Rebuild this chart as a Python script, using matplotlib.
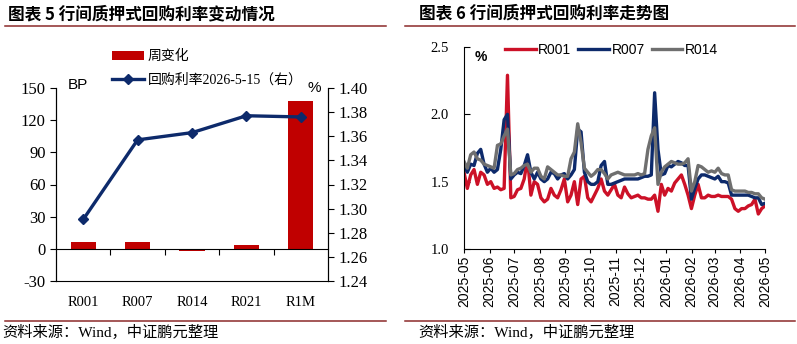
import numpy as np
import pandas as pd
import matplotlib
matplotlib.use('Agg')
import matplotlib.pyplot as plt
import matplotlib.dates as mdates
from matplotlib.lines import Line2D

CJK = 'Noto Sans CJK SC'
SERIF = ['Liberation Serif', CJK]
SANS = ['Liberation Sans', CJK]
plt.rcParams['font.family'] = SERIF
plt.rcParams['axes.unicode_minus'] = False

# ---- left chart data ----
terms = ['R001', 'R007', 'R014', 'R021', 'R1M']
week_change = [6.1, 6.0, -1.6, 3.6, 137.6]
rate_0515 = [1.291, 1.357, 1.363, 1.377, 1.376]

# ---- right chart data ----
r001 = [1.57, 1.45, 1.55, 1.59, 1.48, 1.57, 1.55, 1.48, 1.50, 1.45, 1.46, 1.44, 1.45, 2.29, 1.38,
        1.39, 1.44, 1.45, 1.52, 1.67, 1.40, 1.50, 1.48, 1.38, 1.35, 1.37, 1.45, 1.40, 1.38, 1.44,
        1.52, 1.35, 1.40, 1.50, 1.33, 1.52, 1.54, 1.38, 1.35, 1.40, 1.45, 1.52, 1.43, 1.40, 1.44,
        1.48, 1.40, 1.38, 1.46, 1.41, 1.38, 1.39, 1.40, 1.38, 1.38, 1.37, 1.37, 1.40, 1.28, 1.48,
        1.40, 1.45, 1.43, 1.49, 1.52, 1.55, 1.48, 1.40, 1.30, 1.40, 1.48, 1.38, 1.38, 1.40, 1.39,
        1.39, 1.40, 1.39, 1.39, 1.39, 1.37, 1.30, 1.28, 1.30, 1.30, 1.32, 1.33, 1.37, 1.26, 1.30,
        1.32]
r007 = [1.62, 1.57, 1.63, 1.62, 1.71, 1.74, 1.63, 1.57, 1.60, 1.57, 1.59, 1.74, 1.96, 2.00, 1.52,
        1.55, 1.57, 1.56, 1.62, 1.70, 1.57, 1.52, 1.57, 1.52, 1.50, 1.52, 1.57, 1.56, 1.52, 1.55,
        1.56, 1.52, 1.55, 1.59, 1.89, 1.87, 1.57, 1.50, 1.48, 1.48, 1.50, 1.62, 1.65, 1.48, 1.48,
        1.49, 1.50, 1.51, 1.52, 1.52, 1.52, 1.52, 1.52, 1.53, 1.54, 1.54, 1.55, 2.16, 1.74, 1.55,
        1.56, 1.62, 1.61, 1.63, 1.65, 1.64, 1.62, 1.62, 1.37, 1.45, 1.52, 1.55, 1.55, 1.54, 1.53,
        1.52, 1.54, 1.50, 1.50, 1.49, 1.40, 1.40, 1.40, 1.40, 1.40, 1.40, 1.39, 1.38, 1.38, 1.33,
        1.34]
r014 = [1.65, 1.60, 1.70, 1.72, 1.67, 1.66, 1.63, 1.62, 1.61, 1.60, 1.77, 1.78, 1.84, 1.89, 1.55,
        1.56, 1.59, 1.60, 1.62, 1.63, 1.57, 1.60, 1.60, 1.54, 1.52, 1.61, 1.59, 1.57, 1.55, 1.55,
        1.54, 1.54, 1.67, 1.72, 1.93, 1.79, 1.60, 1.57, 1.54, 1.56, 1.59, 1.59, 1.56, 1.52, 1.55,
        1.56, 1.57, 1.56, 1.55, 1.55, 1.55, 1.55, 1.56, 1.55, 1.56, 1.74, 1.84, 1.90, 1.48, 1.57,
        1.61, 1.63, 1.65, 1.64, 1.63, 1.63, 1.64, 1.67, 1.43, 1.50, 1.62, 1.61, 1.59, 1.57, 1.58,
        1.57, 1.60, 1.56, 1.55, 1.55, 1.44, 1.43, 1.43, 1.43, 1.43, 1.42, 1.42, 1.41, 1.41, 1.38,
        1.37]
dates = pd.date_range('2025-05-15', '2026-05-15', periods=len(r001))
month_ticks = pd.date_range('2025-05-01', '2026-05-01', freq='MS') + pd.Timedelta(days=14)

BAR_RED = '#C00000'
NAVY = '#0D2A6B'
LINE_RED = '#CC1127'
GRAY = '#6F6F6F'
RULE = '#8B2A2A'

fig = plt.figure(figsize=(7.97, 3.44), dpi=100)
W, H = 797, 344


def fx(px):
    return px / W


def fy(py):
    return 1 - py / H


# titles, rules, source
for x0, x1, tx, title in [(5, 386, 8, '图表 5 行间质押式回购利率变动情况'),
                          (405, 795, 419, '图表 6 行间质押式回购利率走势图')]:
    fig.text(fx(tx), fy(14), title, family=[CJK], fontsize=12, fontweight='bold',
             va='center', ha='left')
    fig.add_artist(Line2D([fx(x0), fx(x1)], [fy(26), fy(26)], color=RULE, lw=1.1))
    fig.add_artist(Line2D([fx(x0), fx(x1)], [fy(321), fy(321)], color=RULE, lw=1.1))
    fig.text(fx(x0 - 3 if x0 == 5 else x0 + 13), fy(332), '资料来源：Wind，中证鹏元整理',
             family=SERIF, fontsize=11, va='center', ha='left')

# ---- left chart ----
ax = fig.add_axes([fx(56), fy(281), fx(272), 193 / H])
x = np.arange(len(terms))
bars = ax.bar(x, week_change, width=0.46, color=BAR_RED, zorder=2, label='周变化')
ax.set_xlim(-0.5, len(terms) - 0.5)
ax.set_ylim(-30, 150)
ax.set_yticks(np.arange(-30, 151, 30))
ax.spines['top'].set_visible(False)
ax.spines['bottom'].set_position(('data', 0))
ax.set_xticks(x[:-1] + 0.5)
ax.set_xticklabels([])
ax.set_xticks(x, minor=True)
ax.set_xticklabels(terms, minor=True)
ax.tick_params(axis='x', which='major', direction='out', length=4)
ax.tick_params(axis='x', which='minor', length=0, pad=34, labelsize=10.5)
ax.tick_params(axis='y', direction='out', length=4, labelsize=12)

ax2 = ax.twinx()
ln, = ax2.plot(x, rate_0515, color=NAVY, lw=2.4, marker='D', markersize=5.5, zorder=3,
               label='回购利率2026-5-15（右）')
ax2.set_ylim(1.24, 1.40)
ax2.set_yticks(np.arange(1.24, 1.401, 0.02))
ax2.yaxis.set_major_formatter(plt.FormatStrFormatter('%.2f'))
ax2.spines['top'].set_visible(False)
ax2.tick_params(axis='y', direction='out', length=4, labelsize=12)

ax.text(fx(68), fy(85), 'BP', transform=fig.transFigure, family=SANS, fontsize=11,
        va='center', ha='left')
ax.text(fx(314), fy(88), '%', transform=fig.transFigure, family=SANS, fontsize=11,
        va='center', ha='center')

fig.legend([bars, ln], ['周变化', '回购利率2026-5-15（右）'], loc='upper left',
           bbox_to_anchor=(fx(112), fy(50)), frameon=False, prop={'family': SERIF, 'size': 10},
           borderpad=0, borderaxespad=0, handlelength=2.3, handletextpad=0.25, labelspacing=0.7)

# ---- right chart ----
bx = fig.add_axes([fx(464), fy(249), fx(301), 202 / H])
bx.plot(dates, r001, color=LINE_RED, lw=2.4, label='R001')
bx.plot(dates, r007, color=NAVY, lw=2.4, label='R007')
bx.plot(dates, r014, color=GRAY, lw=2.4, label='R014')
bx.set_xlim(dates[0], dates[-1])
bx.set_ylim(1.0, 2.5)
bx.set_yticks([1.0, 1.5, 2.0, 2.5])
bx.yaxis.set_major_formatter(plt.FormatStrFormatter('%.1f'))
bx.set_xticks(month_ticks)
bx.xaxis.set_major_formatter(mdates.DateFormatter('%Y-%m'))
for lab in bx.get_xticklabels():
    lab.set_family(SANS)
bx.tick_params(axis='x', rotation=90, direction='out', length=3, labelsize=10, pad=2)
bx.tick_params(axis='y', direction='in', length=4, labelsize=10.5, pad=11)
bx.spines['top'].set_visible(False)
bx.spines['right'].set_visible(False)
bx.text(fx(481), fy(57), '%', transform=fig.transFigure, family=SANS, fontsize=10,
        fontweight='bold', va='center', ha='center')
bx.legend(loc='upper left', bbox_to_anchor=(fx(505), fy(43)), bbox_transform=fig.transFigure,
          ncol=3, frameon=False, prop={'family': SANS, 'size': 10}, borderpad=0, borderaxespad=0,
          handlelength=2.2, handletextpad=0.2, columnspacing=0.5)

fig.savefig('out.png', dpi=100)
